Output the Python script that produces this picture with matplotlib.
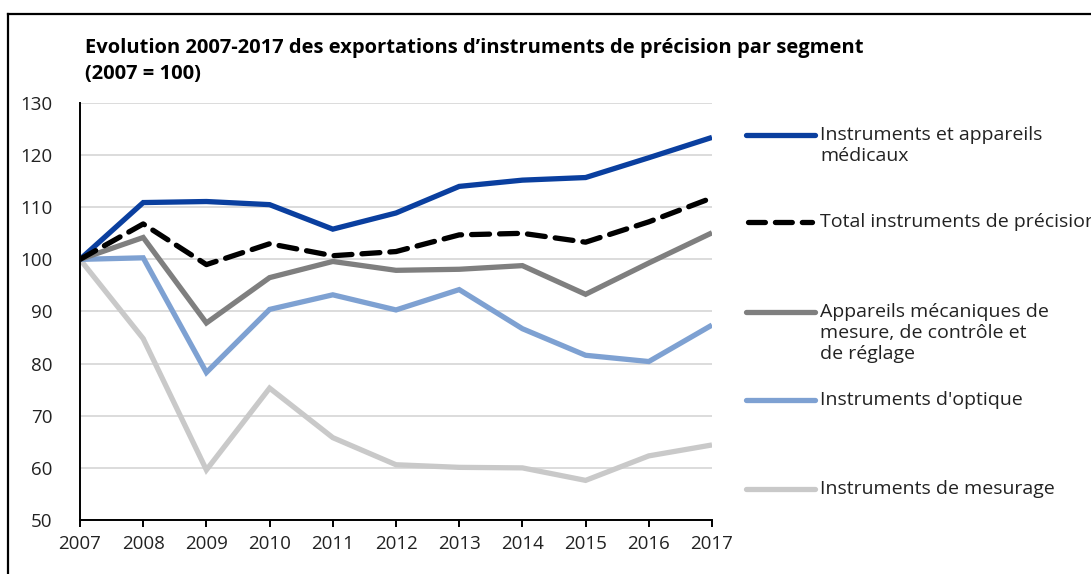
import numpy as np
import matplotlib
matplotlib.use("Agg")
import matplotlib.pyplot as plt
from matplotlib.lines import Line2D

plt.rcParams['font.family'] = ['Open Sans', 'DejaVu Sans']

years = [2007, 2008, 2009, 2010, 2011, 2012, 2013, 2014, 2015, 2016, 2017]
medicaux = [100, 110.9, 111.1, 110.5, 105.8, 108.9, 114.0, 115.2, 115.7, 119.5, 123.4]
total = [100, 106.8, 99.0, 103.0, 100.7, 101.5, 104.7, 105.0, 103.3, 107.2, 111.8]
mecaniques = [100, 104.2, 87.8, 96.5, 99.6, 97.9, 98.1, 98.8, 93.3, 99.3, 105.1]
optique = [100, 100.3, 78.3, 90.4, 93.2, 90.3, 94.2, 86.7, 81.6, 80.4, 87.4]
mesurage = [100, 84.8, 59.6, 75.3, 65.8, 60.6, 60.1, 60.0, 57.6, 62.3, 64.4]

labels = ["Instruments et appareils\nmédicaux",
          "Total instruments de précision",
          "Appareils mécaniques de\nmesure, de contrôle et\nde réglage",
          "Instruments d'optique",
          "Instruments de mesurage"]
colors = ["#0a3f9f", "#000000", "#7f7f7f", "#7ea1d2", "#c9c9c9"]

W, H = 1091, 574
fig = plt.figure(figsize=(W / 100, H / 100), dpi=100)
ax = fig.add_axes([80 / W, 1 - 520 / H, (712 - 80) / W, (520 - 103) / H])

lw = 3.8
ax.plot(years, mesurage, color=colors[4], lw=lw, solid_capstyle='butt', solid_joinstyle='miter')
ax.plot(years, optique, color=colors[3], lw=lw, solid_capstyle='butt', solid_joinstyle='miter')
ax.plot(years, mecaniques, color=colors[2], lw=lw, solid_capstyle='butt', solid_joinstyle='miter')
ax.plot(years, medicaux, color=colors[0], lw=lw, solid_capstyle='butt', solid_joinstyle='miter')
ax.plot(years, total, color=colors[1], lw=lw, dashes=(3.4, 1.9), dash_capstyle='round')

ax.set_xlim(2007, 2017)
ax.set_ylim(50, 130)
ax.set_xticks(years)
ax.set_yticks(np.arange(50, 131, 10))
ax.grid(axis='y', color='#d9d9d9', lw=1.3)
ax.set_axisbelow(True)
for s in ['top', 'right']:
    ax.spines[s].set_visible(False)
ax.spines['left'].set_linewidth(1.4)
ax.spines['bottom'].set_linewidth(1.4)
ax.tick_params(axis='y', length=0, pad=20, labelsize=13.5, colors='#222222')
ax.tick_params(axis='x', length=5, width=1.4, direction='out', pad=6, labelsize=13.5, colors='#222222')
ax.tick_params(axis='x', color='black')

# title
fig.text(85 / W, 1 - 48 / H, "Evolution 2007-2017 des exportations d\u2019instruments de précision par segment",
         fontsize=14.5, fontweight='bold', va='center', ha='left')
fig.text(85 / W, 1 - 74 / H, "(2007 = 100)", fontsize=14.5, fontweight='bold', va='center', ha='left')

# legend
leg_y = [135, 222, 312, 400, 489]
for lab, c, y, i in zip(labels, colors, leg_y, range(5)):
    yy = 1 - y / H
    if i == 1:
        fig.add_artist(Line2D([748 / W, 812 / W], [yy, yy], color=c, lw=lw,
                              dashes=(3.2, 1.9), dash_capstyle='round'))
    else:
        fig.add_artist(Line2D([746 / W, 815 / W], [yy, yy], color=c, lw=lw,
                              solid_capstyle='round'))
    fig.text(820 / W, yy + 9 / H, lab, fontsize=14, va='top', ha='left',
             color='#222222', linespacing=1.2)

# frame
fig.add_artist(Line2D([8 / W, 1], [1 - 14 / H, 1 - 14 / H], color='black', lw=1.6))
fig.add_artist(Line2D([8 / W, 8 / W], [0, 1 - 14 / H], color='black', lw=1.6))

fig.savefig("out.png", dpi=100)
